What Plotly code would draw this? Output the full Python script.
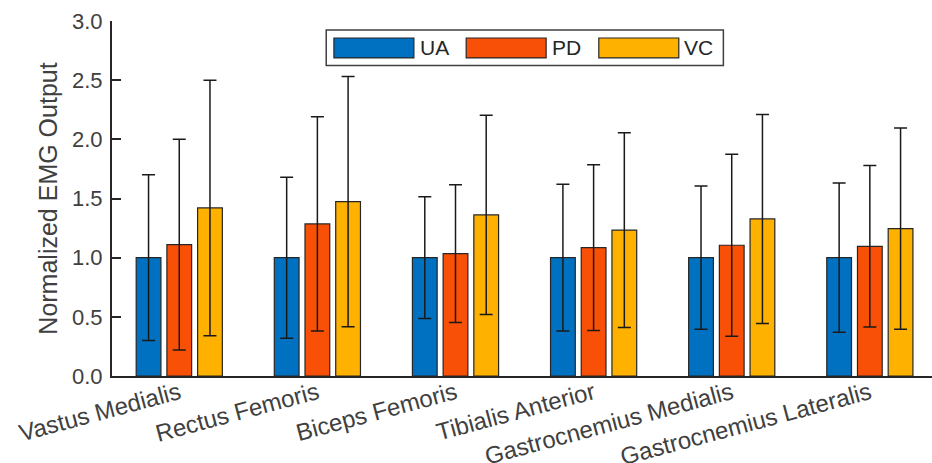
import plotly.graph_objects as go

muscles = ["Vastus Medialis", "Rectus Femoris", "Biceps Femoris", "Tibialis Anterior",
           "Gastrocnemius Medialis", "Gastrocnemius Lateralis"]
groups = ["UA", "PD", "VC"]
ua_mean = [1.0, 1.0, 1.0, 1.0, 1.0, 1.0]
ua_sd = [0.70, 0.68, 0.515, 0.62, 0.605, 0.63]
pd_mean = [1.11, 1.285, 1.035, 1.085, 1.105, 1.096]
pd_sd = [0.89, 0.905, 0.582, 0.70, 0.77, 0.682]
vc_mean = [1.42, 1.474, 1.361, 1.232, 1.327, 1.246]
vc_sd = [1.08, 1.058, 0.842, 0.823, 0.883, 0.85]
colors = ["#0070C0", "#F85006", "#FFB100"]

W, H = 932, 463
L, R, T, B = 111.7, 932, 20.7, 376.0

def px(x):
    return (x - L) / (R - L)

def py(y):
    return (B - y) / (B - T)

fig = go.Figure()
for name, m, s, c in zip(groups, [ua_mean, pd_mean, vc_mean], [ua_sd, pd_sd, vc_sd], colors):
    fig.add_trace(go.Bar(
        x=muscles, y=m, name=name, marker=dict(color=c, line=dict(color="#262626", width=1.2)),
        error_y=dict(type="data", array=s, visible=True, color="#1a1a1a", thickness=1.5, width=6.5),
        showlegend=False,
    ))

font = "Liberation Sans, Arial, sans-serif"
fig.update_layout(
    width=W, height=H,
    margin=dict(l=L, r=W - R, t=T, b=H - B, autoexpand=False),
    paper_bgcolor="white", plot_bgcolor="white",
    barmode="group", bargap=0.333, bargroupgap=0.194,
    font=dict(family=font, size=22, color="#404040"),
)
fig.update_xaxes(
    range=[-0.487, 5.45], showline=True, linecolor="#262626", linewidth=2,
    ticks="", tickangle=-15, tickfont=dict(size=24, color="#404040"), showgrid=False,
    ticklabelstandoff=-8,
)
fig.update_yaxes(
    range=[0, 3], tickvals=[0, 0.5, 1.0, 1.5, 2.0, 2.5, 3.0], tickformat=".1f",
    showline=True, linecolor="#262626", linewidth=2, ticks="inside", ticklen=9, tickwidth=2,
    tickcolor="#262626", showgrid=False, zeroline=False, ticklabelstandoff=3,
    title=dict(text="Normalized EMG Output", font=dict(size=25, color="#404040"), standoff=7),
    tickfont=dict(size=22, color="#404040"),
)

# Legend drawn MATLAB-style
shapes = [dict(type="rect", xref="paper", yref="paper", x0=px(326), x1=px(723.3), y0=py(65.3), y1=py(29.7),
               line=dict(color="#404040", width=1.5), fillcolor="white")]
sw_x = [333.7, 466.0, 598.7]
txt_x = [420.0, 552.3, 684.0]
for name, c, sx, tx in zip(groups, colors, sw_x, txt_x):
    shapes.append(dict(type="rect", xref="paper", yref="paper", x0=px(sx), x1=px(sx + 80), y0=py(57.7), y1=py(37.7),
                       line=dict(color="#262626", width=1.2), fillcolor=c))
    fig.add_annotation(x=px(tx - 2), y=py(47.7), xref="paper", yref="paper", text=name, showarrow=False,
                       xanchor="left", yanchor="middle", font=dict(size=21, color="#262626"))
fig.update_layout(shapes=shapes)

fig.write_html("out.html", config={"displayModeBar": False},
               post_script="document.body.style.margin='0px';document.body.style.padding='0px';")
